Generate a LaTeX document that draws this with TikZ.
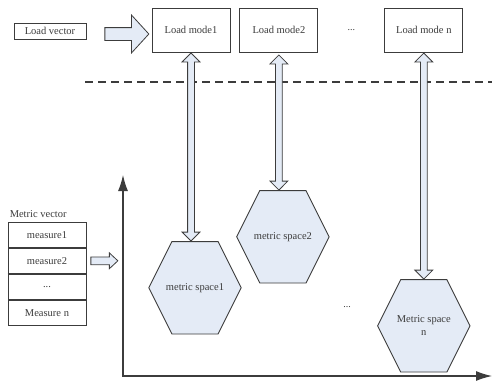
\documentclass[tikz,border=0pt]{standalone}
\usepackage{fontspec}
\setmainfont{Liberation Serif}
\usepackage{tikz}
\usetikzlibrary{positioning}
\usetikzlibrary{calc}
\usetikzlibrary{arrows.meta}
\usetikzlibrary{shapes.arrows}
\usetikzlibrary{backgrounds}

\definecolor{ArrowFill}{RGB}{228,235,246}
\definecolor{LineGray}{RGB}{60,60,60}

\tikzset{
	box/.style={draw=LineGray, line width=0.9pt, fill=white, text=LineGray,
		font=\fontsize{10.5}{12}\selectfont, inner sep=0pt},
	hexnode/.style={minimum width=92pt, minimum height=92pt, inner sep=0pt,
		align=center, text=LineGray, font=\fontsize{10.5}{13}\selectfont},
	fatarrow/.style={single arrow, draw=LineGray, fill=ArrowFill, line width=0.8pt, inner sep=0pt},
	updown/.style={double arrow, rotate=90, anchor=east, draw=LineGray, fill=ArrowFill,
		line width=0.8pt, inner sep=0pt, inner ysep=3pt, minimum width=17pt,
		double arrow head extend=5.5pt}
}

% hexagon drawn behind a hexnode
\newcommand{\hexback}[1]{
	\filldraw[draw=LineGray, fill=ArrowFill, line width=0.9pt]
		(#1.west) -- ($(#1.north west)!0.25!(#1.north east)$)
		-- ($(#1.north west)!0.75!(#1.north east)$) -- (#1.east)
		-- ($(#1.south west)!0.75!(#1.south east)$)
		-- ($(#1.south west)!0.25!(#1.south east)$) -- cycle;
}

\begin{document}
\begin{tikzpicture}[x=1pt, y=-1pt]

\useasboundingbox (0,0) rectangle (492,384);

% --- load side

\node[
	box,
	minimum width=72pt,
	minimum height=16pt
] (lvec) at (50,31) {Load vector};

\node[
	fatarrow,
	minimum height=44pt,
	minimum width=37pt,
	inner ysep=6pt,
	single arrow head extend=12.5pt,
	single arrow tip angle=95,
	right=18pt of lvec,
	yshift=-3pt
] (lvecArrow) {};

\node[
	box,
	minimum width=78pt,
	minimum height=44pt
] (mode1) at (191,30) {Load mode1};

\node[
	box,
	minimum width=78pt,
	minimum height=44pt,
	right=9pt of mode1
] (mode2) {Load mode2};

\node[
	box,
	minimum width=78pt,
	minimum height=44pt,
	right=66pt of mode2
] (modeN) {Load mode n};

\path (mode2) -- (modeN) node[midway, text=LineGray, font=\fontsize{10}{12}\selectfont] (dotsTop) {...};

% ---

\coordinate (dashL) at (85,82);
\coordinate (dashR) at (492,82);
\draw[LineGray, line width=1.1pt, dash pattern=on 8pt off 5pt] (dashL) -- (dashR);

% --- metric spaces

\node[updown, minimum height=188pt] (arr1) at (mode1.south) {};
\node[updown, minimum height=135pt] (arr2) at ([yshift=-2pt]mode2.south) {};
\node[updown, minimum height=226pt] (arrN) at (modeN.south) {};

\node[hexnode, below=0pt of arr1.west, xshift=4pt] (hex1) {metric space1};
\node[hexnode, below=0pt of arr2.west, xshift=4pt] (hex2) {metric space2};
\node[hexnode, below=0pt of arrN.west] (hexN) {Metric space\\n};

\node[text=LineGray, font=\fontsize{10}{12}\selectfont] (dotsHex) at (347,307) {...};

\begin{scope}[on background layer]
	\hexback{hex1}
	\hexback{hex2}
	\hexback{hexN}
\end{scope}

% --- metric vector

\node[
	box,
	minimum width=78pt,
	minimum height=25.3pt
] (m1) at (47,234.6) {measure1};

\node[box, minimum width=78pt, minimum height=25.3pt, below=0pt of m1] (m2) {measure2};
\node[box, minimum width=78pt, minimum height=25.3pt, below=0pt of m2] (m3) {...};
\node[box, minimum width=78pt, minimum height=25.3pt, below=0pt of m3] (m4) {Measure n};

\draw[LineGray, line width=1.8pt] (m2.south west) -- (m2.south east);

\node[
	above right=4pt and 2pt of m1.north west,
	inner sep=0pt,
	text=LineGray,
	font=\fontsize{10.5}{12}\selectfont
] (mvec) {Metric vector};

\node[
	fatarrow,
	minimum height=27pt,
	minimum width=15pt,
	inner ysep=3.5pt,
	single arrow head extend=4pt,
	single arrow tip angle=86,
	right=4pt of m2
] (mvecArrow) {};

% --- axes

\coordinate (origin) at (123,376);
\coordinate (yend) at (123,175);
\coordinate (xend) at (492,376);

\draw[LineGray, line width=1.2pt, {Latex[length=16pt,width=10pt]}-{Latex[length=16pt,width=10pt]}]
	(yend) -- (origin) -- (xend);

\end{tikzpicture}
\end{document}
